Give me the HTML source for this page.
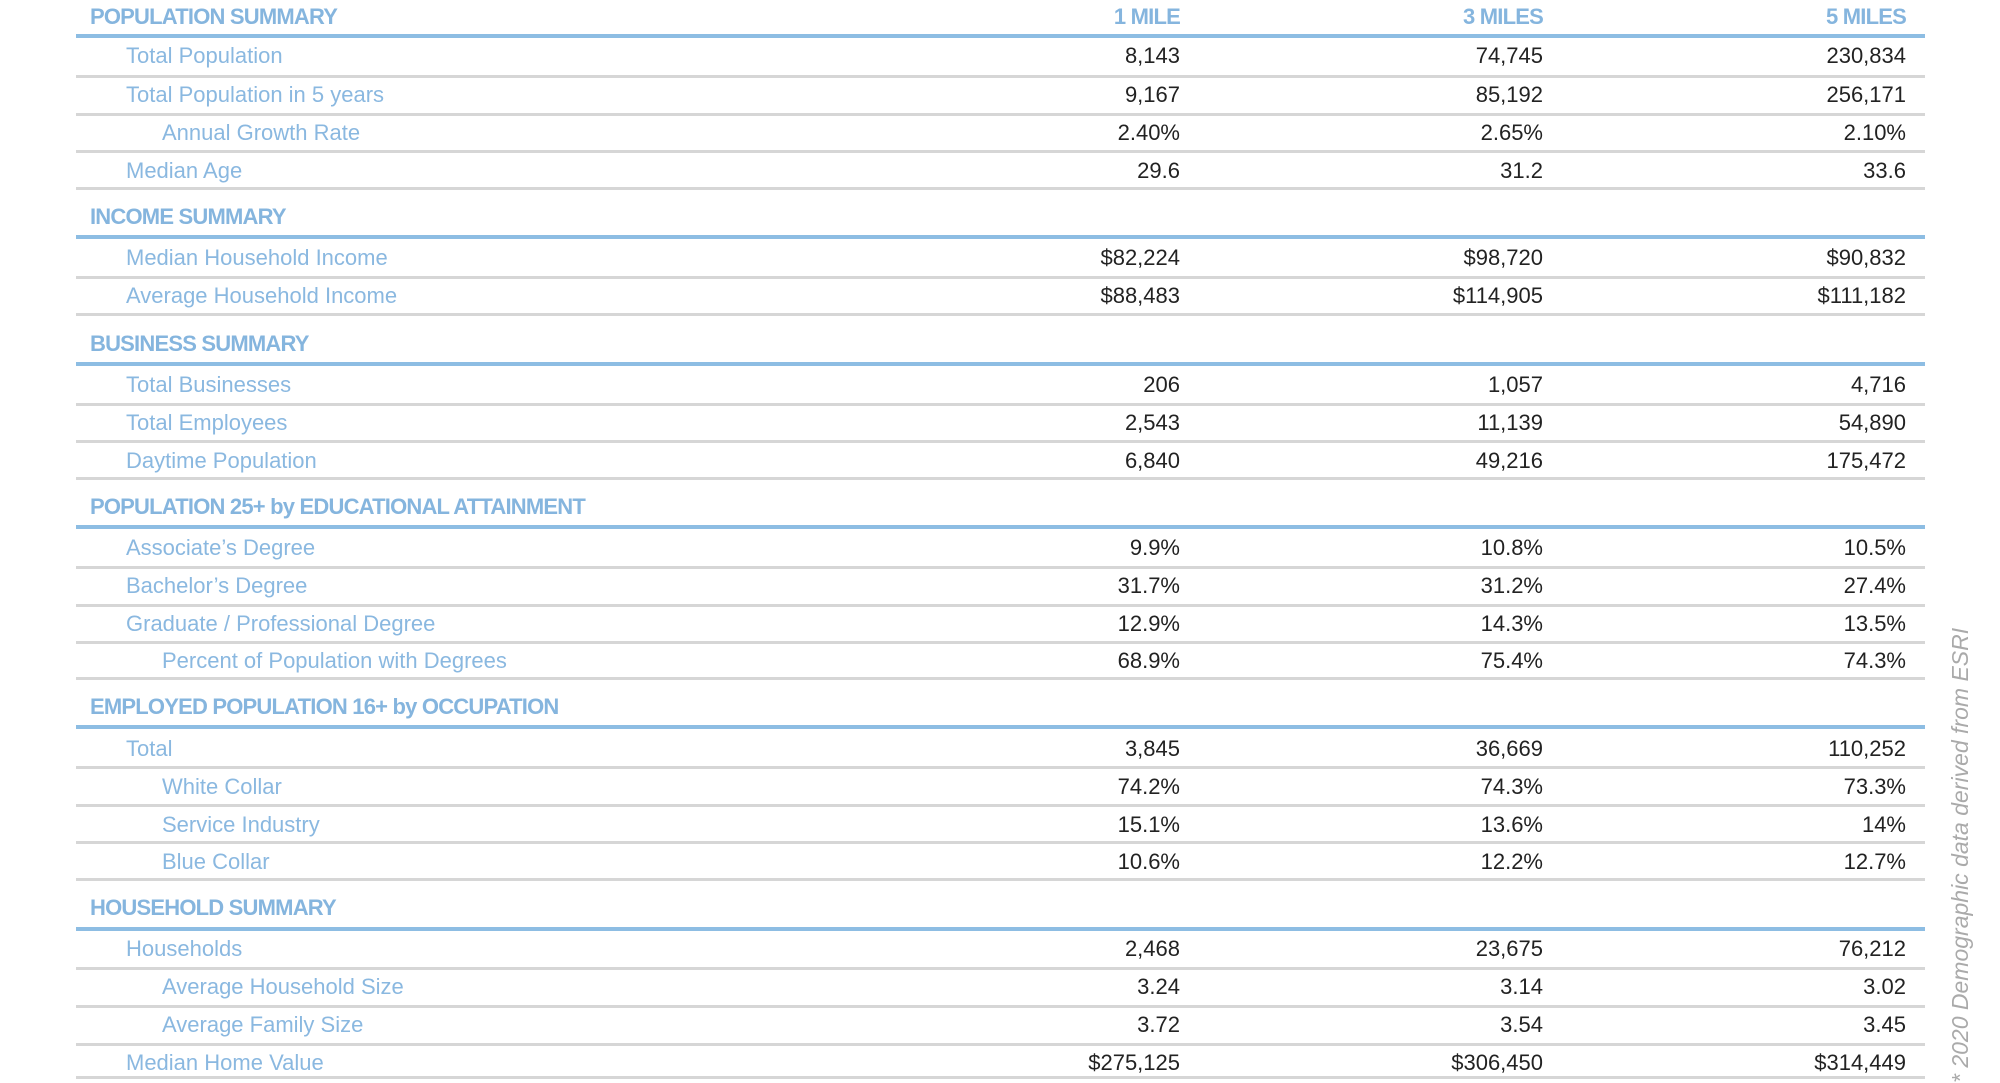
<!DOCTYPE html>
<html><head><meta charset="utf-8"><style>
body{margin:0;width:2000px;height:1080px;background:#fff;position:relative;overflow:hidden;font-family:"Liberation Sans",sans-serif}
.h{position:absolute;left:90px;height:30px;line-height:30px;font-size:22px;font-weight:bold;color:#85b5de;letter-spacing:-0.8px}
.hc{position:absolute;height:30px;line-height:30px;font-size:22px;font-weight:bold;color:#85b5de;text-align:right;width:300px;letter-spacing:-0.8px}
.bl{position:absolute;left:76px;width:1849px;height:4px;background:#8dbde3}
.gl{position:absolute;left:76px;width:1849px;height:3px;background:#d6d6d6}
.l{position:absolute;height:30px;line-height:30px;font-size:22px;color:#8ab8e0}
.v{position:absolute;height:30px;line-height:30px;font-size:22px;color:#222;text-align:right;width:300px}
.foot{position:absolute;left:1948px;top:1083px;transform-origin:0 0;transform:rotate(-90deg);font-size:23px;font-style:italic;color:#aaa;white-space:nowrap;line-height:24px}
</style></head><body>

<div class="h" style="top:2px">POPULATION SUMMARY</div>
<div class="hc" style="top:2px;left:880px">1 MILE</div>
<div class="hc" style="top:2px;left:1243px">3 MILES</div>
<div class="hc" style="top:2px;left:1606px">5 MILES</div>
<div class="bl" style="top:34px"></div>

<div class="l" style="top:41px;left:126px">Total Population</div>
<div class="v" style="top:41px;left:880px">8,143</div><div class="v" style="top:41px;left:1243px">74,745</div><div class="v" style="top:41px;left:1606px">230,834</div>
<div class="gl" style="top:75px"></div>
<div class="l" style="top:80px;left:126px">Total Population in 5 years</div>
<div class="v" style="top:80px;left:880px">9,167</div><div class="v" style="top:80px;left:1243px">85,192</div><div class="v" style="top:80px;left:1606px">256,171</div>
<div class="gl" style="top:113px"></div>
<div class="l" style="top:118px;left:162px">Annual Growth Rate</div>
<div class="v" style="top:118px;left:880px">2.40%</div><div class="v" style="top:118px;left:1243px">2.65%</div><div class="v" style="top:118px;left:1606px">2.10%</div>
<div class="gl" style="top:150px"></div>
<div class="l" style="top:156px;left:126px">Median Age</div>
<div class="v" style="top:156px;left:880px">29.6</div><div class="v" style="top:156px;left:1243px">31.2</div><div class="v" style="top:156px;left:1606px">33.6</div>
<div class="gl" style="top:187px"></div>

<div class="h" style="top:202px">INCOME SUMMARY</div>
<div class="bl" style="top:235px"></div>
<div class="l" style="top:243px;left:126px">Median Household Income</div>
<div class="v" style="top:243px;left:880px">$82,224</div><div class="v" style="top:243px;left:1243px">$98,720</div><div class="v" style="top:243px;left:1606px">$90,832</div>
<div class="gl" style="top:276px"></div>
<div class="l" style="top:281px;left:126px">Average Household Income</div>
<div class="v" style="top:281px;left:880px">$88,483</div><div class="v" style="top:281px;left:1243px">$114,905</div><div class="v" style="top:281px;left:1606px">$111,182</div>
<div class="gl" style="top:313px"></div>

<div class="h" style="top:329px">BUSINESS SUMMARY</div>
<div class="bl" style="top:362px"></div>
<div class="l" style="top:370px;left:126px">Total Businesses</div>
<div class="v" style="top:370px;left:880px">206</div><div class="v" style="top:370px;left:1243px">1,057</div><div class="v" style="top:370px;left:1606px">4,716</div>
<div class="gl" style="top:403px"></div>
<div class="l" style="top:408px;left:126px">Total Employees</div>
<div class="v" style="top:408px;left:880px">2,543</div><div class="v" style="top:408px;left:1243px">11,139</div><div class="v" style="top:408px;left:1606px">54,890</div>
<div class="gl" style="top:440px"></div>
<div class="l" style="top:446px;left:126px">Daytime Population</div>
<div class="v" style="top:446px;left:880px">6,840</div><div class="v" style="top:446px;left:1243px">49,216</div><div class="v" style="top:446px;left:1606px">175,472</div>
<div class="gl" style="top:477px"></div>

<div class="h" style="top:492px">POPULATION 25+ by EDUCATIONAL ATTAINMENT</div>
<div class="bl" style="top:525px"></div>
<div class="l" style="top:533px;left:126px">Associate’s Degree</div>
<div class="v" style="top:533px;left:880px">9.9%</div><div class="v" style="top:533px;left:1243px">10.8%</div><div class="v" style="top:533px;left:1606px">10.5%</div>
<div class="gl" style="top:566px"></div>
<div class="l" style="top:571px;left:126px">Bachelor’s Degree</div>
<div class="v" style="top:571px;left:880px">31.7%</div><div class="v" style="top:571px;left:1243px">31.2%</div><div class="v" style="top:571px;left:1606px">27.4%</div>
<div class="gl" style="top:604px"></div>
<div class="l" style="top:609px;left:126px">Graduate / Professional Degree</div>
<div class="v" style="top:609px;left:880px">12.9%</div><div class="v" style="top:609px;left:1243px">14.3%</div><div class="v" style="top:609px;left:1606px">13.5%</div>
<div class="gl" style="top:641px"></div>
<div class="l" style="top:646px;left:162px">Percent of Population with Degrees</div>
<div class="v" style="top:646px;left:880px">68.9%</div><div class="v" style="top:646px;left:1243px">75.4%</div><div class="v" style="top:646px;left:1606px">74.3%</div>
<div class="gl" style="top:677px"></div>

<div class="h" style="top:692px">EMPLOYED POPULATION 16+ by OCCUPATION</div>
<div class="bl" style="top:725px"></div>
<div class="l" style="top:734px;left:126px">Total</div>
<div class="v" style="top:734px;left:880px">3,845</div><div class="v" style="top:734px;left:1243px">36,669</div><div class="v" style="top:734px;left:1606px">110,252</div>
<div class="gl" style="top:766px"></div>
<div class="l" style="top:772px;left:162px">White Collar</div>
<div class="v" style="top:772px;left:880px">74.2%</div><div class="v" style="top:772px;left:1243px">74.3%</div><div class="v" style="top:772px;left:1606px">73.3%</div>
<div class="gl" style="top:804px"></div>
<div class="l" style="top:810px;left:162px">Service Industry</div>
<div class="v" style="top:810px;left:880px">15.1%</div><div class="v" style="top:810px;left:1243px">13.6%</div><div class="v" style="top:810px;left:1606px">14%</div>
<div class="gl" style="top:841px"></div>
<div class="l" style="top:847px;left:162px">Blue Collar</div>
<div class="v" style="top:847px;left:880px">10.6%</div><div class="v" style="top:847px;left:1243px">12.2%</div><div class="v" style="top:847px;left:1606px">12.7%</div>
<div class="gl" style="top:878px"></div>

<div class="h" style="top:893px">HOUSEHOLD SUMMARY</div>
<div class="bl" style="top:927px"></div>
<div class="l" style="top:934px;left:126px">Households</div>
<div class="v" style="top:934px;left:880px">2,468</div><div class="v" style="top:934px;left:1243px">23,675</div><div class="v" style="top:934px;left:1606px">76,212</div>
<div class="gl" style="top:967px"></div>
<div class="l" style="top:972px;left:162px">Average Household Size</div>
<div class="v" style="top:972px;left:880px">3.24</div><div class="v" style="top:972px;left:1243px">3.14</div><div class="v" style="top:972px;left:1606px">3.02</div>
<div class="gl" style="top:1005px"></div>
<div class="l" style="top:1010px;left:162px">Average Family Size</div>
<div class="v" style="top:1010px;left:880px">3.72</div><div class="v" style="top:1010px;left:1243px">3.54</div><div class="v" style="top:1010px;left:1606px">3.45</div>
<div class="gl" style="top:1043px"></div>
<div class="l" style="top:1048px;left:126px">Median Home Value</div>
<div class="v" style="top:1048px;left:880px">$275,125</div><div class="v" style="top:1048px;left:1243px">$306,450</div><div class="v" style="top:1048px;left:1606px">$314,449</div>
<div class="gl" style="top:1076px"></div>

<div class="foot">* 2020 Demographic data derived from ESRI</div>
</body></html>
